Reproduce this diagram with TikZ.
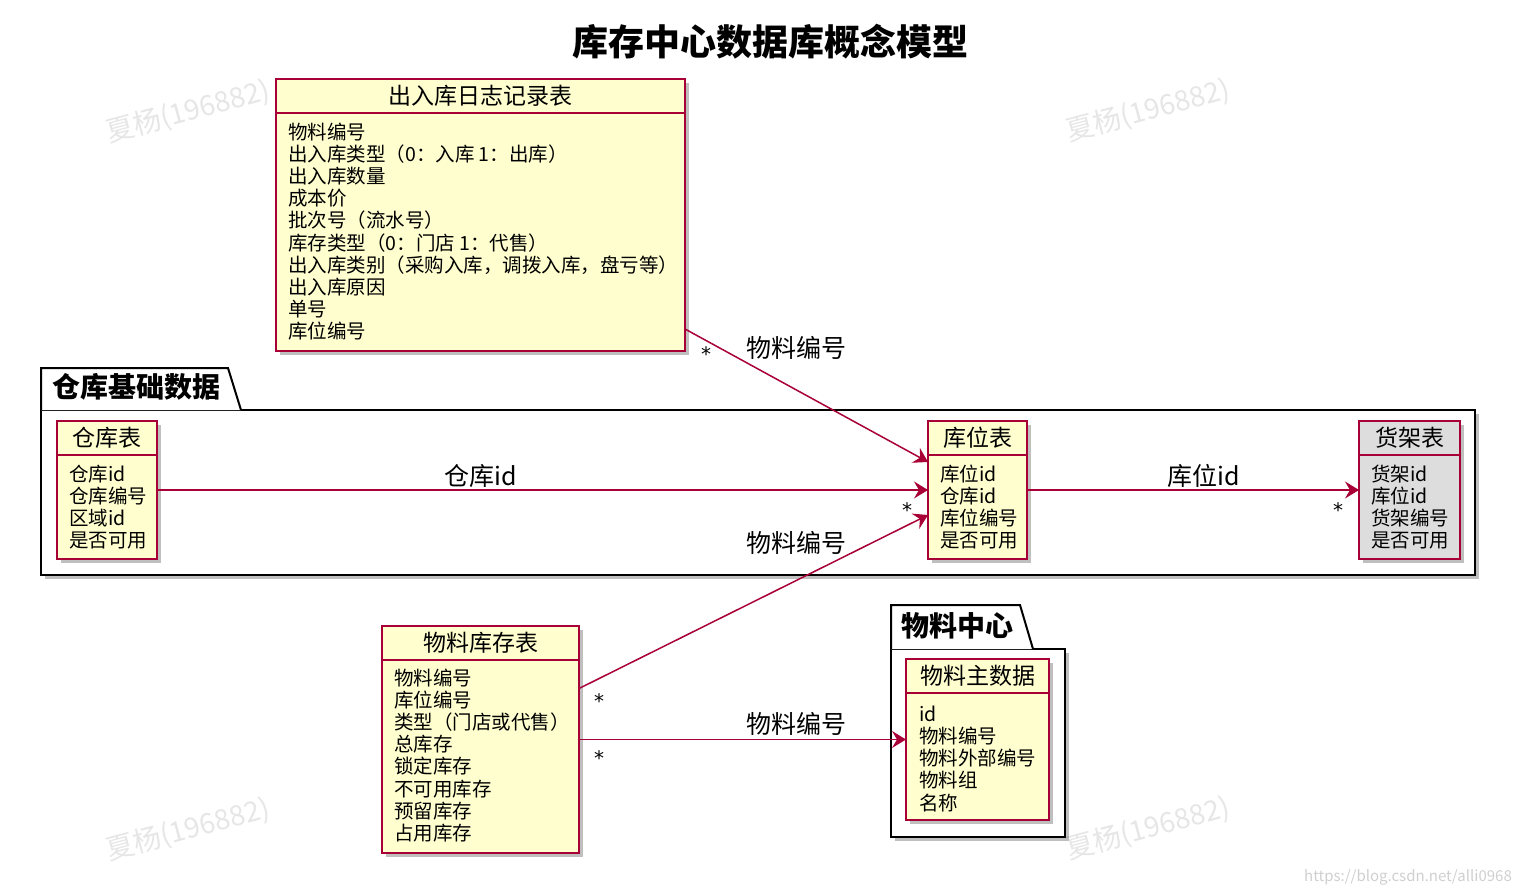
\documentclass[tikz,border=0pt]{standalone}
\usepackage{fontspec}
\setmainfont{Noto Sans CJK SC}
\newfontfamily\starfont{DejaVu Sans}
\usetikzlibrary{arrows.meta,shadows,calc}
\definecolor{umlred}{HTML}{A80036}
\definecolor{umlfill}{HTML}{FEFECE}
\definecolor{shelfgray}{HTML}{DDDDDD}
\definecolor{wmark}{HTML}{E6E6E6}
\tikzset{
  cls/.style={draw=umlred, line width=1.8pt, fill=umlfill, anchor=north west, inner sep=0pt, outer sep=0pt,
    drop shadow={shadow xshift=4pt, shadow yshift=-4pt, opacity=.25, fill=black}},
  sep/.style={draw=umlred, line width=1.8pt},
  hdr/.style={inner sep=0pt, font=\fontsize{23}{26}\selectfont},
  body/.style={anchor=north west, inner sep=0pt, align=left, font=\fontsize{19.5}{22.2}\selectfont},
  pkg/.style={draw=black, line width=2pt, fill=white, anchor=north west, inner sep=0pt, outer sep=0pt,
    drop shadow={shadow xshift=4pt, shadow yshift=-4pt, opacity=.25, fill=black}},
  pkgtab/.style={draw=black, line width=2pt, fill=white, line join=miter},
  pkglbl/.style={inner sep=0pt, font=\fontsize{28}{30}\selectfont\bfseries},
  conn/.style={draw=umlred, line width=1.5pt, -{Stealth[length=14pt,width=17pt,inset=5pt]}},
  clbl/.style={inner sep=0pt, font=\fontsize{25}{28}\selectfont},
  mult/.style={inner sep=0pt, font=\fontsize{20}{22}\starfont},
  wm/.style={inner sep=0pt, text=wmark, rotate=15, font=\fontsize{28}{30}\selectfont},
}
\begin{document}
\begin{tikzpicture}[x=1pt,y=-1pt]
\useasboundingbox (0,0) rectangle (1518,896);

% watermarks
\node[wm] (wm1) at (188,112) {夏杨(196882)};
\node[wm] (wm2) at (1148,111) {夏杨(196882)};
\node[wm] (wm3) at (188,830) {夏杨(196882)};
\node[wm] (wm4) at (1148,829) {夏杨(196882)};
\node[inner sep=0pt, text=wmark!90!black, font=\fontsize{15}{17}\selectfont] (url) at (1408,877) {https://blog.csdn.net/alli0968};

% title
\node[inner sep=0pt, font=\fontsize{36}{40}\selectfont\bfseries] (title) at (770,42) {库存中心数据库概念模型};

% package 仓库基础数据
\node[pkg, minimum width=1434pt, minimum height=165pt] (p1) at (41,410) {};
\draw[pkgtab] (p1.north west) -- (41,368) -- (228,368) -- (241,410);
\node[pkglbl] (p1l) at (136,387) {仓库基础数据};

% package 物料中心
\node[pkg, minimum width=174pt, minimum height=188pt] (p2) at (891,649) {};
\draw[pkgtab] (p2.north west) -- (891,605) -- (1020,605) -- (1033,649);
\node[pkglbl] (p2l) at (957,626) {物料中心};

% 出入库日志记录表
\node[cls, minimum width=409pt, minimum height=272pt] (rz) at (276,79) {};
\draw[sep] ($(rz.north west)+(0,34)$) -- ($(rz.north east)+(0,34)$);
\node[hdr] (rzh) at ($(rz.north)+(0,17)$) {出入库日志记录表};
\node[body] (rzb) at ($(rz.north west)+(12,43.4)$) {物料编号\\出入库类型（0：入库 1：出库）\\出入库数量\\成本价\\批次号（流水号）\\库存类型（0：门店 1：代售）\\出入库类别（采购入库，调拨入库，盘亏等）\\出入库原因\\单号\\库位编号};

% 仓库表
\node[cls, minimum width=100pt, minimum height=138pt] (ck) at (57,421) {};
\draw[sep] ($(ck.north west)+(0,34)$) -- ($(ck.north east)+(0,34)$);
\node[hdr] (ckh) at ($(ck.north)+(0,17)$) {仓库表};
\node[body] (ckb) at ($(ck.north west)+(12,43.4)$) {仓库id\\仓库编号\\区域id\\是否可用};

% 库位表
\node[cls, minimum width=99pt, minimum height=138pt] (kw) at (928,421) {};
\draw[sep] ($(kw.north west)+(0,34)$) -- ($(kw.north east)+(0,34)$);
\node[hdr] (kwh) at ($(kw.north)+(0,17)$) {库位表};
\node[body] (kwb) at ($(kw.north west)+(12,43.4)$) {库位id\\仓库id\\库位编号\\是否可用};

% 货架表
\node[cls, fill=shelfgray, minimum width=101pt, minimum height=138pt] (hj) at (1359,421) {};
\draw[sep] ($(hj.north west)+(0,34)$) -- ($(hj.north east)+(0,34)$);
\node[hdr] (hjh) at ($(hj.north)+(0,17)$) {货架表};
\node[body] (hjb) at ($(hj.north west)+(12,43.4)$) {货架id\\库位id\\货架编号\\是否可用};

% 物料库存表
\node[cls, minimum width=197pt, minimum height=227pt] (kc) at (382,626) {};
\draw[sep] ($(kc.north west)+(0,34)$) -- ($(kc.north east)+(0,34)$);
\node[hdr] (kch) at ($(kc.north)+(0,17)$) {物料库存表};
\node[body] (kcb) at ($(kc.north west)+(12,42.4)$) {物料编号\\库位编号\\类型（门店或代售）\\总库存\\锁定库存\\不可用库存\\预留库存\\占用库存};

% 物料主数据
\node[cls, minimum width=143pt, minimum height=161pt] (wl) at (906,659) {};
\draw[sep] ($(wl.north west)+(0,34)$) -- ($(wl.north east)+(0,34)$);
\node[hdr] (wlh) at ($(wl.north)+(0,17)$) {物料主数据};
\node[body] (wlb) at ($(wl.north west)+(13,46.6)$) {id\\物料编号\\物料外部编号\\物料组\\名称};

% connectors
\draw[conn] (ck.east) -- (kw.west);
\node[clbl] (l1) at (481,476) {仓库id};
\node[mult] (m1) at (907,510) {*};

\draw[conn] (kw.east) -- (hj.west);
\node[clbl] (l2) at (1204,476) {库位id};
\node[mult] (m2) at (1338,510) {*};

\draw[conn] ($(rz.east)+(0,114)$) -- ($(kw.west)+(0,-28)$);
\node[clbl] (l3) at (796,348) {物料编号};
\node[mult] (m3) at (706,354) {*};

\draw[conn] ($(kc.east)+(0,-51)$) -- ($(kw.west)+(0,25)$);
\node[clbl] (l4) at (796,543) {物料编号};
\node[mult] (m4) at (599,701) {*};

\draw[conn] (kc.east) -- (wl.west);
\node[clbl] (l5) at (796,724) {物料编号};
\node[mult] (m5) at (599,758) {*};
\end{tikzpicture}
\end{document}
